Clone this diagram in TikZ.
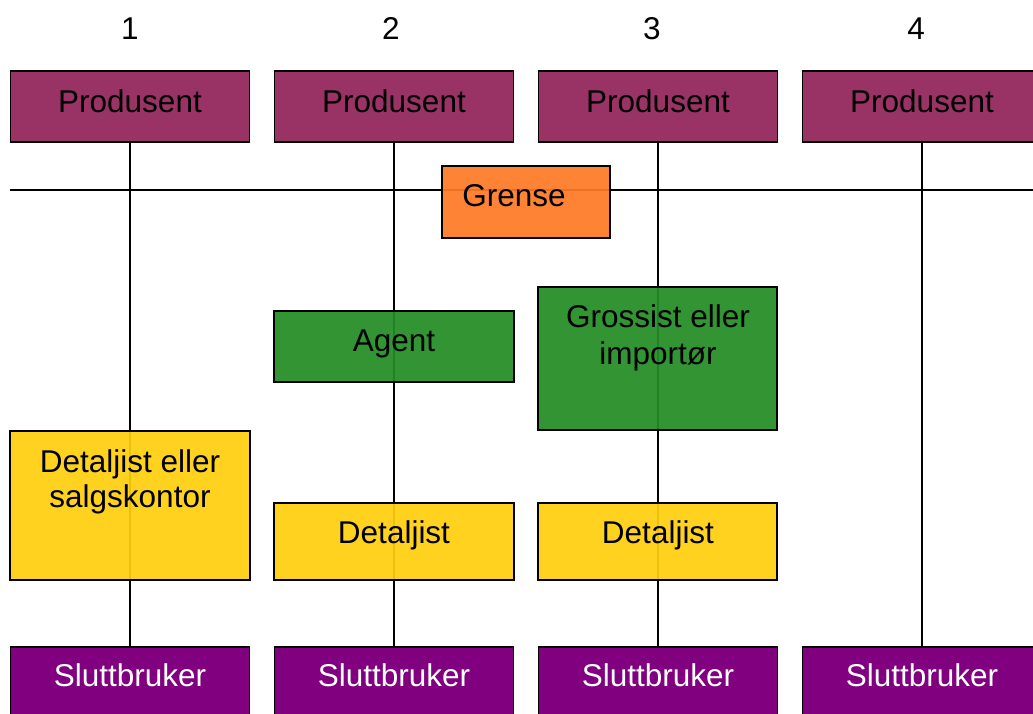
\documentclass[tikz,border=0pt]{standalone}
\usepackage{fontspec}
\setmainfont{Liberation Sans}
\definecolor{prodc}{HTML}{993366}
\definecolor{sluttc}{HTML}{800080}
\definecolor{grensec}{HTML}{FF7A26}
\definecolor{greenc}{HTML}{238C23}
\definecolor{yellowc}{HTML}{FFCF10}
\begin{document}
\begin{tikzpicture}[x=1pt,y=-1pt,
  box/.style={draw=black, line width=1.6pt, inner sep=0pt, minimum width=239pt},
  solidbox/.style={box, minimum height=71pt},
  patbox/.style={box, fill opacity=0.93},
  txt/.style={anchor=base, inner sep=0pt, font=\fontsize{31.5}{36}\selectfont},
  conn/.style={draw=black, line width=1.6pt}]
\clip (0,0) rectangle (1033,713);
\fill[white] (0,0) rectangle (1033,713);
% column numbers
\node[txt] (n1) at (130,39) {1};
\node[txt] (n2) at (391,39) {2};
\node[txt] (n3) at (652,39) {3};
\node[txt] (n4) at (916,39) {4};
% producers
\node[solidbox, fill=prodc] (p1) at (130,106.5) {};
\node[solidbox, fill=prodc] (p2) at (394,106.5) {};
\node[solidbox, fill=prodc] (p3) at (658,106.5) {};
\node[solidbox, fill=prodc] (p4) at (922,106.5) {};
% end users
\node[solidbox, fill=sluttc] (s1) at (130,682.5) {};
\node[solidbox, fill=sluttc] (s2) at (394,682.5) {};
\node[solidbox, fill=sluttc] (s3) at (658,682.5) {};
\node[solidbox, fill=sluttc] (s4) at (922,682.5) {};
% connectors and border line
\coordinate (gl) at (10,190);
\coordinate (gr) at (1040,190);
\draw[conn] (gl) -- (gr);
\draw[conn] (p1.south) -- (s1.north);
\draw[conn] (p2.south) -- (s2.north);
\draw[conn] (p3.south) -- (s3.north);
\draw[conn] (p4.south) -- (s4.north);
% intermediate boxes
\node[patbox, fill=grensec, minimum width=168pt, minimum height=72pt] (g) at (526,202) {};
\node[patbox, fill=greenc, minimum width=240pt, minimum height=71pt] (a) at (394,346.5) {};
\node[patbox, fill=greenc, minimum width=239pt, minimum height=143pt] (gi) at (657.5,358.5) {};
\node[patbox, fill=yellowc, minimum width=240pt, minimum height=149pt] (d1) at (130,505.5) {};
\node[patbox, fill=yellowc, minimum width=240pt, minimum height=77pt] (d2) at (394,541.5) {};
\node[patbox, fill=yellowc, minimum width=239pt, minimum height=77pt] (d3) at (657.5,541.5) {};
% texts
\node[txt] (tp1) at (130,112) {Produsent};
\node[txt] (tp2) at (394,112) {Produsent};
\node[txt] (tp3) at (658,112) {Produsent};
\node[txt] (tp4) at (922,112) {Produsent};
\node[txt] (tg) at (514,206) {Grense};
\node[txt] (ta) at (394,351) {Agent};
\node[txt] (tgi1) at (658,327) {Grossist eller};
\node[txt] (tgi2) at (658,364) {importør};
\node[txt] (td1a) at (130,472) {Detaljist eller};
\node[txt] (td1b) at (130,507) {salgskontor};
\node[txt] (td2) at (394,543) {Detaljist};
\node[txt] (td3) at (658,543) {Detaljist};
\node[txt, text=white] (ts1) at (130,686) {Sluttbruker};
\node[txt, text=white] (ts2) at (394,686) {Sluttbruker};
\node[txt, text=white] (ts3) at (658,686) {Sluttbruker};
\node[txt, text=white] (ts4) at (922,686) {Sluttbruker};
\end{tikzpicture}
\end{document}
